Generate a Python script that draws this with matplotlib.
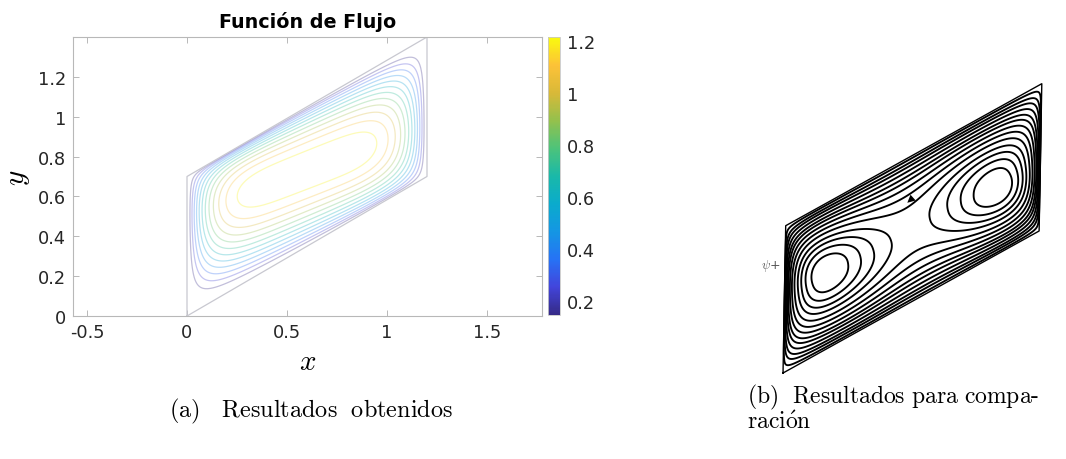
import numpy as np
import matplotlib
matplotlib.use("Agg")
import matplotlib.pyplot as plt
from matplotlib.colors import LinearSegmentedColormap, Normalize
from matplotlib.cm import ScalarMappable

plt.rcParams['mathtext.fontset'] = 'cm'
plt.rcParams['font.family'] = ['DejaVu Sans']

# ---------------- data ----------------
# skewed cavity (panel a)
cavity_length = 1.2
cavity_height = 0.7
cavity_rise = 0.7
psi_max = 1.28
psi_levels = [0.15, 0.245, 0.34, 0.435, 0.53, 0.625, 0.72, 0.815, 0.91, 1.005, 1.10, 1.195]
cbar_range = [0.146, 1.215]
cbar_ticks = [0.2, 0.4, 0.6, 0.8, 1.0, 1.2]
cbar_ticklabels = ['0.2', '0.4', '0.6', '0.8', '1', '1.2']
x_ticks = [-0.5, 0.0, 0.5, 1.0, 1.5]
x_ticklabels = ['-0.5', '0', '0.5', '1', '1.5']
y_ticks = [0.0, 0.2, 0.4, 0.6, 0.8, 1.0, 1.2]
y_ticklabels = ['0', '0.2', '0.4', '0.6', '0.8', '1', '1.2']

# reference cavity (panel b), cavity coordinates (xi, eta) in [0, 1]
ref_edge_bottom = (1.0, 0.5547)
ref_edge_side = (0.0105, 0.5754)
ref_core_left = (0.10, 0.61)
ref_core_right = (0.89, 0.35)
ref_levels = [0.07, 0.15, 0.22, 0.30, 0.38, 0.45, 0.53, 0.61, 0.69, 0.77, 0.835, 0.895, 0.95]

# parula-like colour map
parula_stops = [
    (0.00, (0.208, 0.166, 0.529)),
    (0.10, (0.260, 0.270, 0.860)),
    (0.20, (0.150, 0.450, 0.960)),
    (0.30, (0.080, 0.590, 0.890)),
    (0.40, (0.040, 0.670, 0.800)),
    (0.50, (0.100, 0.725, 0.660)),
    (0.60, (0.300, 0.765, 0.480)),
    (0.70, (0.580, 0.755, 0.300)),
    (0.80, (0.850, 0.725, 0.220)),
    (0.90, (0.990, 0.760, 0.220)),
    (1.00, (0.976, 0.983, 0.054)),
]
parula = LinearSegmentedColormap.from_list('parula', parula_stops)

fig = plt.figure(figsize=(10.66, 4.6), dpi=100)

# ---------------- panel (a) ----------------
ax = fig.add_axes([73/1066, 1-317/460, 469/1066, 279/460])
gx = np.linspace(0, cavity_length, 500)
gy = np.linspace(0, cavity_rise + cavity_height, 500)
X, Y = np.meshgrid(gx, gy)
xi = X / cavity_length
eta = (Y - xi * cavity_rise) / cavity_height
u = np.clip(eta, 1e-9, 1 - 1e-9)
a = 1.5 - 0.8 * xi
b = 0.6 + 0.6 * xi
G = (u**a * (1 - u)**b / ((a/(a+b))**a * (b/(a+b))**b))**0.85
F = 1 - np.abs(2*xi - 1)**5
psi = psi_max * F * G
psi = np.ma.masked_where((eta < 0) | (eta > 1), psi)

norm = Normalize(vmin=cbar_range[0], vmax=cbar_range[1])
ax.contour(X, Y, psi, levels=psi_levels, cmap=parula, norm=norm,
           linewidths=0.9, alpha=0.3)
corners_x = [0, cavity_length, cavity_length, 0, 0]
corners_y = [0, cavity_rise, cavity_rise + cavity_height, cavity_height, 0]
ax.plot(corners_x, corners_y, color='#c8c8d0', lw=0.9)

ax.set_xlim(-0.57, 1.775)
ax.set_ylim(0, 1.4)
ax.set_xticks(x_ticks)
ax.set_xticklabels(x_ticklabels)
ax.set_yticks(y_ticks)
ax.set_yticklabels(y_ticklabels)
for s in ax.spines.values():
    s.set_color('#b8b8b8')
    s.set_linewidth(0.8)
ax.tick_params(direction='in', length=4, width=0.7, color='#b8b8b8',
               top=True, right=True, labelsize=12.8, labelcolor='#262626', pad=5)
ax.set_title('Función de Flujo', fontsize=13.8, fontweight='bold', pad=7)
ax.set_xlabel(r'$x$', fontsize=21, labelpad=4)
ax.set_ylabel(r'$y$', fontsize=21, labelpad=4)

cax = fig.add_axes([548/1066, 1-316/460, 12/1066, 278/460])
cb = fig.colorbar(ScalarMappable(norm=norm, cmap=parula), cax=cax)
cb.set_ticks(cbar_ticks)
cb.set_ticklabels(cbar_ticklabels)
cb.outline.set_edgecolor('#c8c8c8')
cb.outline.set_linewidth(0.6)
cax.tick_params(direction='in', length=0, labelsize=12.8, labelcolor='#262626', pad=5)

# ---------------- panel (b) ----------------
bx = fig.add_axes([740/1066, 1-390/460, 326/1066, 330/460])
bx.set_xlim(-0.168, 1.105)
bx.set_ylim(-0.0625, 1.2266)
bx.axis('off')

def to_xy(p, q):
    return (p * ref_edge_bottom[0] + q * ref_edge_side[0],
            p * ref_edge_bottom[1] + q * ref_edge_side[1])

s = np.linspace(0, 1, 600)
P, Q = np.meshgrid(s, s)
RX, RY = to_xy(P, Q)
c1 = to_xy(*ref_core_left)
c2 = to_xy(*ref_core_right)
W = (1 - np.abs(2*P - 1)**8)**0.5 * (1 - np.abs(2*Q - 1)**2.5)**0.9
g1 = np.exp(-((RX - c1[0])**2 + (RY - c1[1])**2) / 0.10)
g2 = np.exp(-((RX - c2[0])**2 + (RY - c2[1])**2) / 0.10)
rpsi = W * (1.0 + 0.77 * (g1 + g2))
rpsi = rpsi / rpsi.max()
bx.contour(RX, RY, rpsi, levels=ref_levels, colors='k', linewidths=1.35)
pc = [to_xy(0, 0), to_xy(1, 0), to_xy(1, 1), to_xy(0, 1), to_xy(0, 0)]
bx.plot([p[0] for p in pc], [p[1] for p in pc], color='k', lw=1.0)
ah = to_xy(0.47, 0.69)
at = to_xy(0.52, 0.72)
bx.annotate('', xy=ah, xytext=at,
            arrowprops=dict(arrowstyle='-|>', color='k', lw=0, mutation_scale=14))
lp = to_xy(-0.02, 0.755)
bx.text(lp[0], lp[1], r'$\psi$+', fontsize=9, color='#555555', ha='right', va='center')

# ---------------- captions ----------------
fig.text(311/1066, 1-411/460, r'$\mathrm{(a)\quad Resultados\ \ obtenidos}$',
         fontsize=17.5, ha='center', va='center')
fig.text(747/1066, 1-397/460, r'$\mathrm{(b)\ \ Resultados\ para\ compa\text{-}}$',
         fontsize=17, ha='left', va='center')
fig.text(747/1066, 1-422/460, r'$\mathrm{raci\acute{o}n}$',
         fontsize=17, ha='left', va='center')

fig.savefig('out.png', dpi=100)
